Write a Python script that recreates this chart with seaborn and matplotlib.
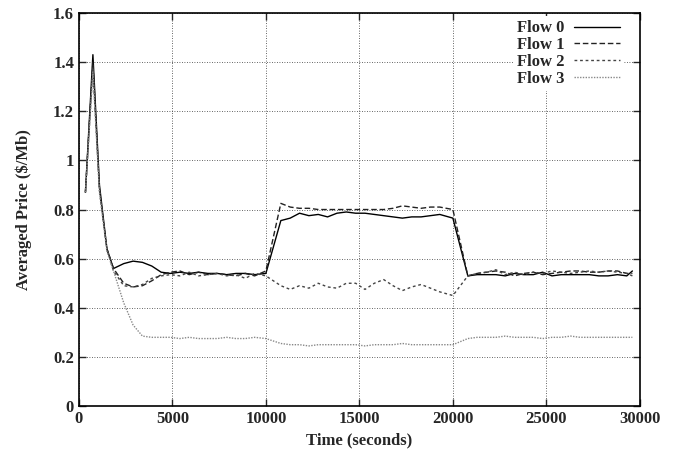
import matplotlib
matplotlib.use("Agg")
import matplotlib.pyplot as plt
import pandas as pd
import seaborn as sns

times = [350, 750, 1100, 1500, 1850,
         2400, 2900, 3400, 3900, 4400, 4900, 5400, 5900, 6400, 6900, 7400, 7900, 8400, 8900, 9400,
         10000,
         10800, 11300, 11800, 12300, 12800, 13300, 13800, 14300, 14800, 15300, 15800, 16300, 16800,
         17300, 17800, 18300, 18800, 19300,
         20000,
         20800, 21300, 21800, 22300, 22800, 23300, 23800, 24300, 24800, 25300, 25800, 26300, 26800,
         27300, 27800, 28300, 28800, 29300, 29600]

flow0 = [0.87, 1.43, 0.90, 0.64, 0.56,
         0.58, 0.59, 0.585, 0.57, 0.545, 0.54, 0.545, 0.54, 0.545, 0.54, 0.54, 0.535, 0.54, 0.54, 0.535,
         0.54,
         0.755, 0.765, 0.785, 0.775, 0.78, 0.77, 0.785, 0.79, 0.785, 0.785, 0.78, 0.775, 0.77,
         0.765, 0.77, 0.77, 0.775, 0.78,
         0.765,
         0.53, 0.535, 0.535, 0.535, 0.53, 0.54, 0.535, 0.535, 0.545, 0.53, 0.535, 0.535, 0.535,
         0.535, 0.53, 0.53, 0.535, 0.53, 0.55]

flow1 = [0.87, 1.40, 0.88, 0.64, 0.56,
         0.50, 0.485, 0.49, 0.51, 0.535, 0.545, 0.55, 0.535, 0.545, 0.535, 0.54, 0.535, 0.53, 0.54, 0.53,
         0.55,
         0.825, 0.81, 0.805, 0.805, 0.80, 0.80, 0.80, 0.80, 0.80, 0.80, 0.80, 0.80, 0.805,
         0.815, 0.81, 0.805, 0.81, 0.81,
         0.80,
         0.53, 0.54, 0.545, 0.55, 0.545, 0.53, 0.54, 0.545, 0.535, 0.54, 0.545, 0.55, 0.55,
         0.545, 0.545, 0.55, 0.55, 0.54, 0.54]

flow2 = [0.87, 1.38, 0.88, 0.64, 0.55,
         0.49, 0.485, 0.495, 0.52, 0.53, 0.535, 0.53, 0.545, 0.53, 0.535, 0.54, 0.53, 0.535, 0.52, 0.54,
         0.53,
         0.49, 0.475, 0.49, 0.48, 0.50, 0.485, 0.48, 0.50, 0.50, 0.475, 0.50, 0.515, 0.49,
         0.47, 0.485, 0.495, 0.48, 0.465,
         0.45,
         0.53, 0.54, 0.545, 0.555, 0.535, 0.545, 0.535, 0.545, 0.54, 0.55, 0.545, 0.54, 0.545,
         0.55, 0.545, 0.55, 0.545, 0.54, 0.53]

flow3 = [0.87, 1.36, 0.87, 0.63, 0.55,
         0.42, 0.33, 0.285, 0.28, 0.28, 0.28, 0.275, 0.28, 0.275, 0.275, 0.275, 0.28, 0.275, 0.275, 0.28,
         0.275,
         0.255, 0.25, 0.25, 0.245, 0.25, 0.25, 0.25, 0.25, 0.25, 0.245, 0.25, 0.25, 0.25,
         0.255, 0.25, 0.25, 0.25, 0.25,
         0.25,
         0.275, 0.28, 0.28, 0.28, 0.285, 0.28, 0.28, 0.28, 0.275, 0.28, 0.28, 0.285, 0.28,
         0.28, 0.28, 0.28, 0.28, 0.28, 0.28]

flows = ["Flow 0", "Flow 1", "Flow 2", "Flow 3"]

frames = []
for name, vals in zip(flows, [flow0, flow1, flow2, flow3]):
    frames.append(pd.DataFrame({"time": times, "price": vals, "flow": name}))
df = pd.concat(frames, ignore_index=True)

sns.set_style("ticks")
plt.rcParams["font.family"] = ["Liberation Serif", "DejaVu Serif"]
plt.rcParams["font.weight"] = "bold"
plt.rcParams["font.size"] = 12

fig = plt.figure(figsize=(6.8, 4.61), dpi=100)
ax = fig.add_axes([0.116, 0.119, 0.825, 0.853])

palette = {"Flow 0": "black", "Flow 1": "#222222", "Flow 2": "#444444", "Flow 3": "#888888"}
dashes = {"Flow 0": "", "Flow 1": (4, 2), "Flow 2": (2, 2), "Flow 3": (1, 1)}

sns.lineplot(data=df, x="time", y="price", hue="flow", style="flow",
             palette=palette, dashes=dashes, linewidth=1.0, ax=ax)

ax.set_xlim(0, 30000)
ax.set_ylim(0, 1.6)
ax.set_xticks(range(0, 30001, 5000))
ax.set_yticks([0, 0.2, 0.4, 0.6, 0.8, 1.0, 1.2, 1.4, 1.6])
ax.set_yticklabels(["0", "0.2", "0.4", "0.6", "0.8", "1", "1.2", "1.4", "1.6"])
ax.grid(True, linestyle=(0, (1, 2)), color="#333333", linewidth=0.6)
ax.tick_params(direction="in", length=5, width=1, top=True, right=True, labelsize=12)
for s in ax.spines.values():
    s.set_linewidth(1.2)
    s.set_color("black")
ax.set_xlabel("Time (seconds)", fontsize=12, fontweight="bold")
ax.set_ylabel("Averaged Price ($/Mb)", fontsize=12, fontweight="bold", labelpad=15)

handles, labels = ax.get_legend_handles_labels()
leg = ax.legend(handles, labels, loc="upper right", bbox_to_anchor=(0.978, 1.0),
                frameon=True, markerfirst=False,
                handlelength=2.75, handletextpad=0.6, labelspacing=0.05,
                borderpad=0.25, borderaxespad=0.2, fontsize=12, alignment="right",
                fancybox=False, framealpha=1.0, facecolor="white", edgecolor="none")
for t in leg.get_texts():
    t.set_ha("right")

fig.savefig("out.png", dpi=100)
